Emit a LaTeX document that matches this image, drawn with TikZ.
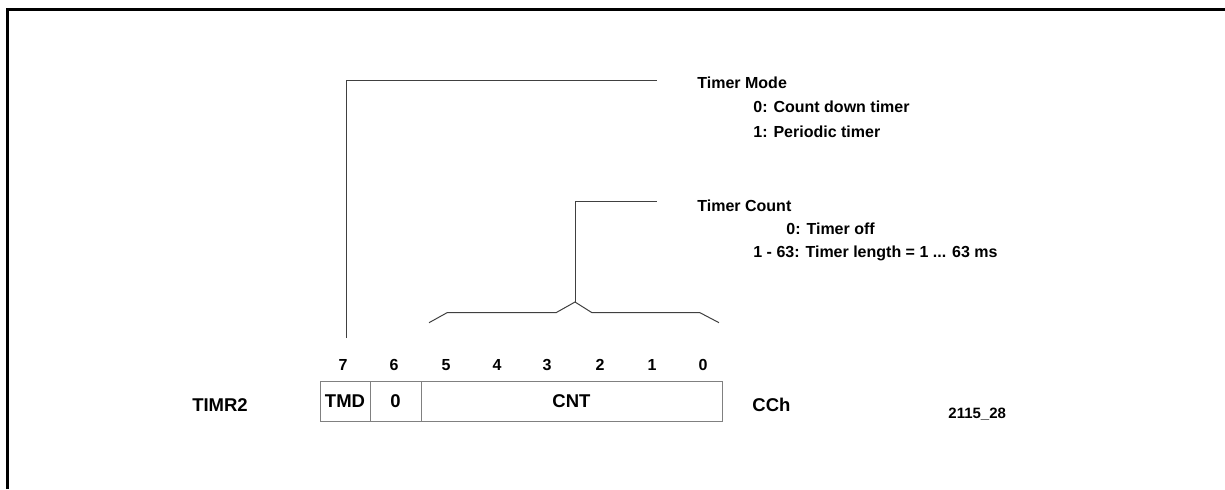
\documentclass[tikz,border=0pt]{standalone}
\usepackage{fontspec}
\setmainfont{Liberation Sans}
\begin{document}
\begin{tikzpicture}[x=0.5pt,y=-0.5pt,
  desc/.style={anchor=base west, inner sep=0, font=\bfseries\fontsize{8}{9.6}\selectfont},
  bitnum/.style={inner sep=0, font=\bfseries\fontsize{8}{9.6}\selectfont},
  reglabel/.style={inner sep=0, font=\bfseries\fontsize{9.25}{11}\selectfont},
  cellbox/.style={draw=black!50, line width=0.5pt, inner sep=0, minimum height=20pt, font=\bfseries\fontsize{9.25}{11}\selectfont},
  leader/.style={draw=black!75, line width=0.5pt},
  frameline/.style={line width=1.5pt}]
\useasboundingbox (0,0) rectangle (1225,489);
\draw[frameline] (7.5,489) -- (7.5,9.5) -- (1225,9.5);

% register cells
\node[cellbox, minimum width=25pt] (tmd) at (345,401) {TMD};
\node[cellbox, minimum width=25.5pt] (zero) at (395.5,401) {0};
\node[cellbox, minimum width=150.5pt] (cnt) at (571.5,401) {CNT};

% bit numbers
\node[bitnum] (b7) at (343,365) {7};
\node[bitnum] (b6) at (394,365) {6};
\node[bitnum] (b5) at (446,365) {5};
\node[bitnum] (b4) at (497,365) {4};
\node[bitnum] (b3) at (547,365) {3};
\node[bitnum] (b2) at (600,365) {2};
\node[bitnum] (b1) at (652,365) {1};
\node[bitnum] (b0) at (703,365) {0};

% labels
\node[reglabel] (timr) at (220,405) {TIMR2};
\node[reglabel, anchor=west] (cch) at (752,405) {CCh};
\node[inner sep=0, anchor=west, font=\bfseries\fontsize{7.5}{9}\selectfont] (fig) at (948,414) {2115\_28};

% descriptions
\node[desc] (tmode) at (697,88.5) {Timer Mode};
\node[desc] (tmzero) at (753,112.5) {0: Count down timer};
\node[desc] (tmone) at (753,137) {1: Periodic timer};
\node[desc] (tcount) at (697,211) {Timer Count};
\node[desc] (tczero) at (786,234.3) {0: Timer off};
\node[desc] (tcone) at (753,257.7) {1 - 63: Timer length = 1 ... 63 ms};

% leaders
\coordinate (modefoot) at (346,338);
\coordinate (modeend) at (657,80);
\draw[leader] (modefoot) |- (modeend);

\coordinate (bl) at (429,322.7);
\coordinate (bla) at (447,312.7);
\coordinate (blb) at (556,312.7);
\coordinate (peak) at (575,302);
\coordinate (bra) at (592,312.7);
\coordinate (brb) at (700,312.7);
\coordinate (br) at (719,322.7);
\draw[leader, line join=miter] (bl) -- (bla) -- (blb) -- (peak) -- (bra) -- (brb) -- (br);

\coordinate (countend) at (657,201);
\draw[leader] (peak) |- (countend);
\end{tikzpicture}
\end{document}
